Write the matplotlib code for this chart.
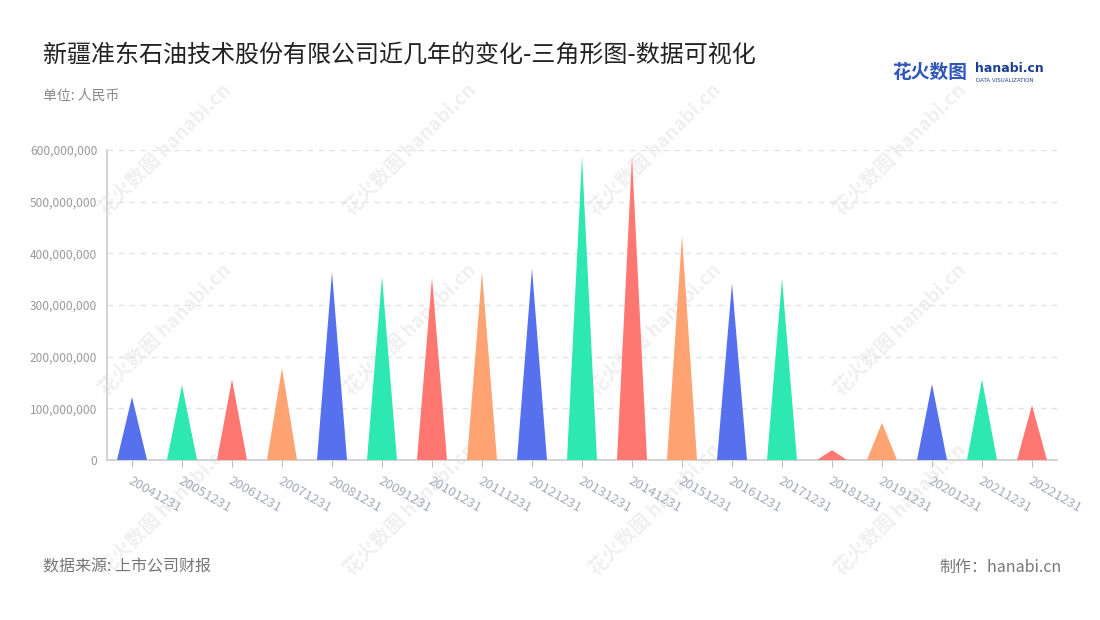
import numpy as np
import matplotlib
matplotlib.use('Agg')
import matplotlib.pyplot as plt
from matplotlib.ticker import FuncFormatter

plt.rcParams['font.family'] = ['Noto Sans CJK SC', 'DejaVu Sans']

# 数据
dates = ['20041231', '20051231', '20061231', '20071231', '20081231', '20091231',
         '20101231', '20111231', '20121231', '20131231', '20141231', '20151231',
         '20161231', '20171231', '20181231', '20191231', '20201231', '20211231',
         '20221231']
values = [122e6, 145e6, 156e6, 178e6, 364e6, 355e6,
          353e6, 364e6, 371e6, 587e6, 588e6, 435e6,
          342e6, 351e6, 19e6, 72e6, 147e6, 156e6,
          106e6]
palette = ['#5771EE', '#2EE8B2', '#FF7770', '#FFA372']

fig = plt.figure(figsize=(11, 6.2), dpi=100)
ax = fig.add_axes([107 / 1100, 1 - 460 / 620, 950 / 1100, 310 / 620])
ax.patch.set_alpha(0)

for i, v in enumerate(values):
    ax.fill([i - 0.3, i, i + 0.3], [0, v, 0], color=palette[i % 4], lw=0, zorder=3)

ax.set_xlim(-0.5, len(dates) - 0.5)
ax.set_ylim(0, 600e6)
ax.set_yticks(np.arange(0, 600e6 + 1, 100e6))
ax.yaxis.set_major_formatter(FuncFormatter(lambda x, p: '{:,.0f}'.format(x)))
ax.set_xticks(range(len(dates)))
ax.set_xticklabels(dates, rotation=-30, ha='left', rotation_mode='anchor',
                   color='#a6aabb', fontsize=9.5)
ax.tick_params(axis='y', length=0, colors='#9a9a9a', labelsize=8.6, pad=7)
ax.tick_params(axis='x', length=5, color='#bbbbbb', pad=5)
ax.grid(axis='y', color='#e2e2e2', ls=(0, (4, 4)), lw=1, zorder=0)
for s in ['top', 'right']:
    ax.spines[s].set_visible(False)
ax.spines['left'].set_color('#cccccc')
ax.spines['bottom'].set_color('#cccccc')
ax.spines['left'].set_linewidth(1.2)
ax.spines['bottom'].set_linewidth(1.2)

# 水印 (画在坐标轴下面)
for yy in [150, 330, 510]:
    for xx in [165, 410, 655, 900]:
        fig.text(xx / 1100, 1 - yy / 620, '花火数图 hanabi.cn', rotation=45,
                 color='#f0f0f0', fontsize=14, fontweight='bold',
                 ha='center', va='center', zorder=-1)

# 标题和说明
fig.text(43 / 1100, 1 - 55 / 620, '新疆准东石油技术股份有限公司近几年的变化-三角形图-数据可视化',
         fontsize=17.3, color='#222222', va='center')
fig.text(43 / 1100, 1 - 96 / 620, '单位: 人民币', fontsize=10, color='#888888', va='center')
fig.text(43 / 1100, 1 - 567 / 620, '数据来源: 上市公司财报', fontsize=11.5, color='#777777', va='center')
fig.text(1062 / 1100, 1 - 567 / 620, '制作：hanabi.cn', fontsize=11.5, color='#777777',
         va='center', ha='right')

# logo
fig.text(892 / 1100, 1 - 72 / 620, '花火数图', fontsize=13.5, color='#2f56b8',
         fontweight='bold', va='center')
fig.text(975 / 1100, 1 - 69 / 620, 'hanabi.cn', fontsize=9, color='#1d3f8f',
         fontweight='bold', va='center', family='DejaVu Sans')
fig.text(976 / 1100, 1 - 80 / 620, 'DATA VISUALIZATION', fontsize=4, color='#1d3f8f',
         va='center', family='DejaVu Sans')

fig.savefig('out.png', dpi=100)
